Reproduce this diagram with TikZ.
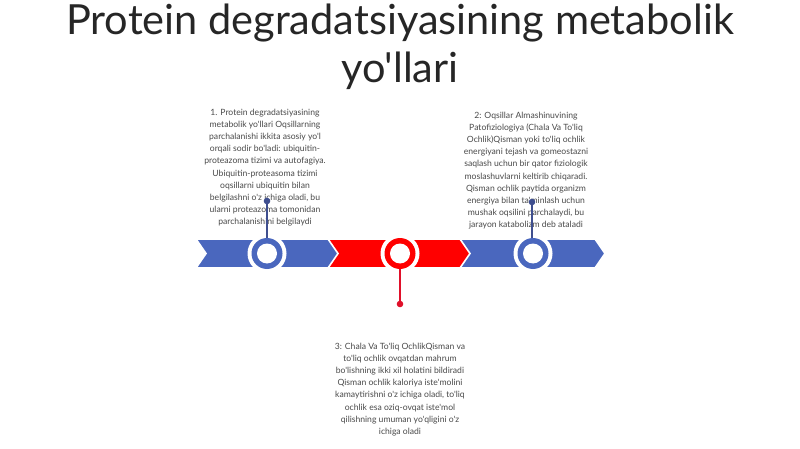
\documentclass[tikz,border=0pt]{standalone}
\usepackage{fontspec}
\setmainfont{Lato}[Ligatures=TeXOff]
\definecolor{cblue}{HTML}{4A67BE}
\definecolor{cred}{HTML}{FF0000}
\definecolor{dblue}{HTML}{3F4F8F}
\definecolor{dred}{HTML}{E0102A}
\definecolor{txt}{HTML}{4A4A4A}
\tikzset{
  chev/.style={line width=1.6pt, draw=white, line join=miter},
  body/.style={font=\fontsize{8.6}{12.1}\selectfont, text=txt, align=center, inner sep=0pt, anchor=north},
  ttl/.style={font=\fontsize{41.5}{48}\selectfont, text=black!85, inner sep=0pt, anchor=base},
  conn/.style={line width=1.1pt},
}
\begin{document}
\begin{tikzpicture}[x=1pt,y=-1pt]
\useasboundingbox[fill=white] (0,0) rectangle (800,449);
\node[ttl] (t1) at (400,35) {Protein degradatsiyasining metabolik};
\node[ttl] (t2) at (400,83) {yo'llari};
% chevrons
\def\ytop{239}\def\ybot{268}\def\ymid{253.5}
\fill[cblue,chev] (196,\ytop) -- (331,\ytop) -- (341,\ymid) -- (331,\ybot) -- (196,\ybot) -- (206,\ymid) -- cycle;
\fill[cred,chev] (328,\ytop) -- (463,\ytop) -- (473,\ymid) -- (463,\ybot) -- (328,\ybot) -- (338,\ymid) -- cycle;
\fill[cblue,chev] (460,\ytop) -- (595,\ytop) -- (605,\ymid) -- (595,\ybot) -- (460,\ybot) -- (470,\ymid) -- cycle;
% rings
\foreach \n/\x/\c in {c1/267/cblue, c2/400/cred, c3/533/cblue}{
  \fill[white] (\x,\ymid) circle (19.5);
  \fill[\c] (\x,\ymid) circle (15.5);
  \fill[white] (\x,\ymid) circle (10);
  \coordinate (\n) at (\x,\ymid);
}
\node[circle, minimum size=31pt, inner sep=0pt] (r1) at (c1) {};
\node[circle, minimum size=31pt, inner sep=0pt] (r2) at (c2) {};
\node[circle, minimum size=31pt, inner sep=0pt] (r3) at (c3) {};
% texts
\node[body] (b1) at (265,109) {1. Protein degradatsiyasining\\metabolik yo'llari Oqsillarning\\parchalanishi ikkita asosiy yo'l\\orqali sodir bo'ladi: ubiquitin-\\proteazoma tizimi va autofagiya.\\Ubiquitin-proteasoma tizimi\\oqsillarni ubiquitin bilan\\belgilashni o'z ichiga oladi, bu\\ularni proteazoma tomonidan\\parchalanishini belgilaydi};
\node[body] (b2) at (526,112) {2: Oqsillar Almashinuvining\\Patofiziologiya (Chala Va To'liq\\Ochlik)Qisman yoki to'liq ochlik\\energiyani tejash va gomeostazni\\saqlash uchun bir qator fiziologik\\moslashuvlarni keltirib chiqaradi.\\Qisman ochlik paytida organizm\\energiya bilan ta'minlash uchun\\mushak oqsilini parchalaydi, bu\\jarayon katabolizm deb ataladi};
\node[body] (b3) at (400,343) {3: Chala Va To'liq OchlikQisman va\\to'liq ochlik ovqatdan mahrum\\bo'lishning ikki xil holatini bildiradi\\Qisman ochlik kaloriya iste'molini\\kamaytirishni o'z ichiga oladi, to'liq\\ochlik esa oziq-ovqat iste'mol\\qilishning umuman yo'qligini o'z\\ichiga oladi};
% connectors
\coordinate (d1) at (267,201);
\coordinate (d2) at (400,304);
\coordinate (d3) at (532,202);
\draw[conn, dblue] (d1) -- (r1.north);
\fill[dblue] (d1) circle (3.3);
\draw[conn, dred] (r2.south) -- (d2);
\fill[dred] (d2) circle (3.3);
\draw[conn, dblue] (d3) -- (r3.north -| d3);
\fill[dblue] (d3) circle (3.3);
\end{tikzpicture}
\end{document}
